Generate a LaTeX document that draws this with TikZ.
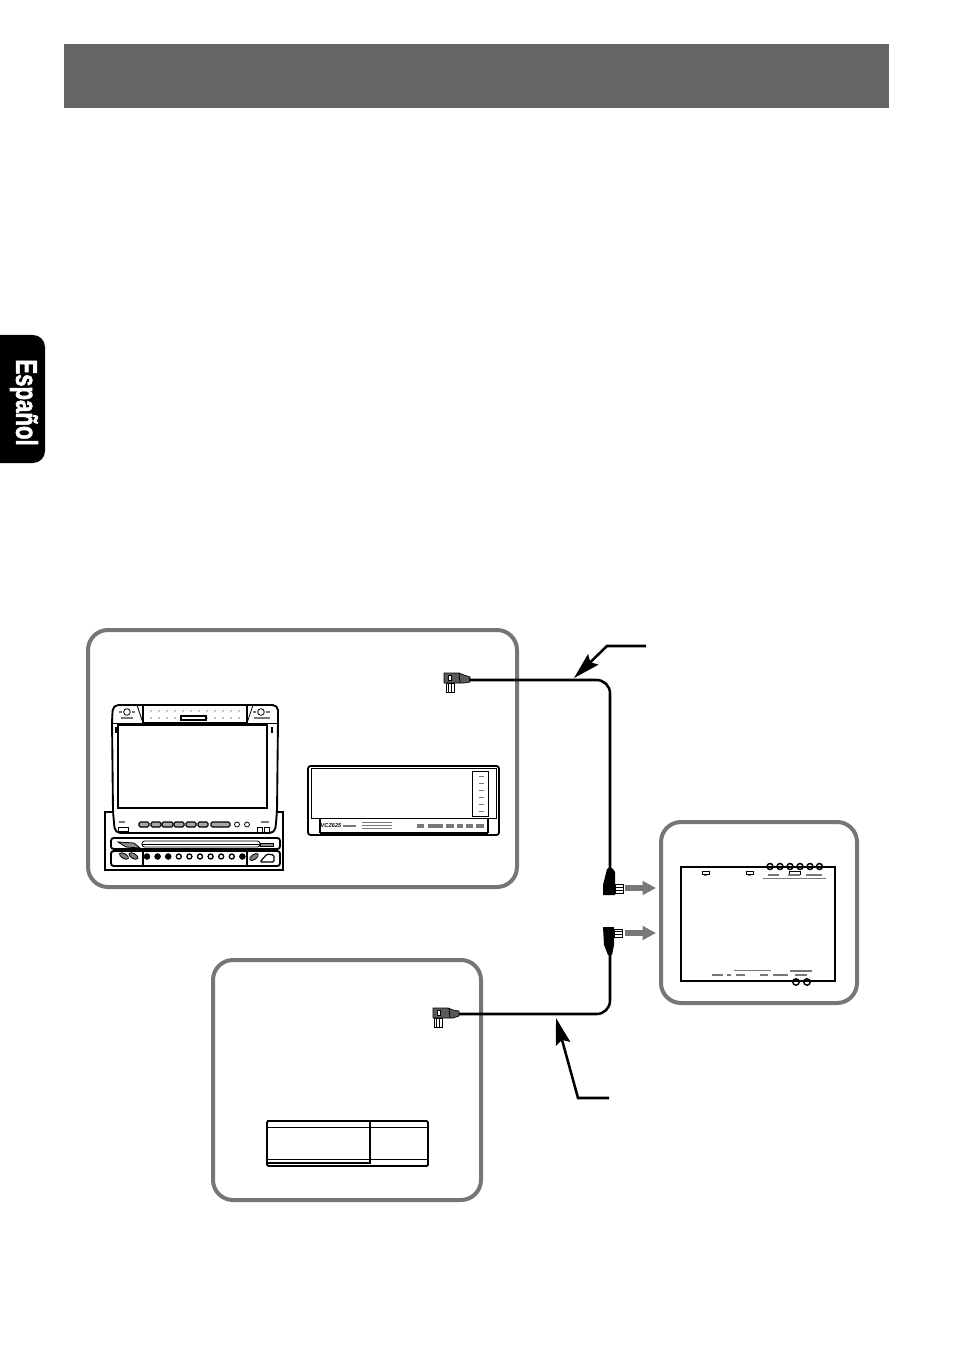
\documentclass[tikz,border=0pt]{standalone}
\usepackage{fontspec}
\setmainfont{Liberation Sans}
\newfontfamily\tabfont[BoldFeatures={FakeBold=2.2}]{Liberation Sans}
\usetikzlibrary{arrows.meta}
\definecolor{bargray}{RGB}{102, 102, 102}
\definecolor{framegray}{RGB}{118, 118, 118}
\definecolor{pluggray}{RGB}{90, 90, 90}
\definecolor{markgray}{RGB}{120, 120, 120}

\begin{document}
\begin{tikzpicture}[x=0.75pt, y=-0.75pt,
        framebox/.style={draw=framegray, line width=3pt, rounded corners=15pt, fill=white,
                    anchor=north west, inner sep=0pt, outer sep=0pt},
        plugbody/.style={inner sep=0pt, outer sep=0pt, minimum width=19.5pt, minimum height=7.5pt},
        plugend/.style={inner sep=0pt, outer sep=0pt, minimum width=9pt, minimum height=20pt},
        plugfill/.style={draw=black, line width=0.5pt, fill=pluggray},
        wire/.style={line width=1.9pt, rounded corners=10pt},
        leader/.style={line width=1.9pt, -{Stealth[length=20pt, width=11pt, inset=3pt]}},
        pushto/.style={line width=3.8pt, draw=markgray,
                    -{Triangle[length=10pt, width=10pt]}},
        outline/.style={line width=1.4pt, draw=black, fill=white},
        thinline/.style={line width=0.6pt, draw=black},
        tickline/.style={line width=0.8pt, draw=markgray}
    ]
    \useasboundingbox (0,0) rectangle (954,1351);

    % Top bar and side tab
    \node[fill=bargray, anchor=north west, inner sep=0pt, outer sep=0pt, minimum width=618.75pt, minimum height=48pt] (headbar) at (64,44) {};
    \fill[black, rounded corners=9pt] (-20,335) rectangle (45,463);
    \node[transform shape, rotate=-90, xscale=.74, text=white, font=\tabfont\fontsize{22.5}{24}\selectfont\bfseries] (tablabel) at (24,402.5) {Español};

    % Frames
    \node[framebox, minimum width=321.75pt, minimum height=192.75pt] (sourcebox) at (88,630) {};
    \node[framebox, minimum width=201pt, minimum height=180pt] (changerbox) at (213,960) {};
    \node[framebox, minimum width=147pt, minimum height=135.75pt] (ampbox) at (661,822) {};

    % Head unit
    \draw[outline, line width=1.6pt] (105,812) rectangle (283,870);
    \draw[outline, rounded corners=4pt] (113,812) -- (112,720) -- (113,705) -- (278,705) -- (278,720) -- (277,812) -- (275,833) -- (115,833) -- cycle;
    \draw[line width=1pt] (118,725) rectangle (267,808);
    \draw[thinline] (113,723) -- (143,723) (247,723) -- (277,723);
    \draw[outline] (143,705) rectangle (247,723);
    \draw[thinline] (137,705) -- (143,723) (253,705) -- (247,723);
    \foreach \px in {151,159,...,239} {
        \fill (\px,711) circle (0.7);
        \fill (\px,718) circle (0.7);
    }
    \draw[outline, line width=.8pt] (181,716) rectangle (206,720);
    \draw[thinline] (127,712) circle (3.3) (261,712) circle (3.3);
    \draw[tickline] (119,712) -- (122,712) (132,712) -- (135,712) (253,712) -- (256,712) (266,712) -- (270,712);
    \draw[tickline] (121,718) -- (133,718) (254,718) -- (270,718);
    \fill (115,727) rectangle (117,733);
    \fill (271,727) rectangle (273,733);
    \foreach \px/\pw in {139/10,151/10,162/11,174/10,186/10,198/10,211/19} {
        \draw[line width=.8pt, rounded corners=1pt, fill=black!35] (\px,822) rectangle ++(\pw,5);
    }
    \draw[thinline] (237,824.5) circle (2.5) (247,824.5) circle (2.5);
    \draw[thinline] (118,827) rectangle (128,831);
    \draw[tickline, line width=1.4pt] (119,822) -- (125,822) (261,822) -- (269,822);
    \draw[thinline] (257,827) rectangle (262,832) (264,827) rectangle (269,832);
    \draw[outline, rounded corners=2pt] (111,838) rectangle (280,849);
    \draw[outline, rounded corners=2pt] (111,851) rectangle (280,866);
    \draw[thinline, rounded corners=2pt] (142,841) rectangle (260,847);
    \draw[thinline] (142,844) -- (260,844);
    \draw[thinline, fill=black!45] (118,842) -- (134,843) -- (140,848) -- (126,847) -- cycle;
    \draw[thinline, fill=black!45] (260,843) rectangle (273,846);
    \draw[line width=.8pt] (143,851) -- (143,866) (247,851) -- (247,866);
    \foreach \nx in {0,1,...,9} {
        \draw[line width=1pt] ({147+10.6*\nx},856.5) circle (2.5);
    }
    \foreach \nx in {0,1,2,9} {
        \fill ({147+10.6*\nx},856.5) circle (3);
    }
    \draw[thinline, fill=black!50, rotate around={-30:(124,856)}] (124,856) ellipse (5 and 2.5);
    \draw[thinline, fill=black!50, rotate around={-30:(133.5,856)}] (133.5,856) ellipse (5 and 2.5);
    \draw[thinline, fill=black!50, rotate around={35:(254,857)}] (254,857) ellipse (5 and 2.5);
    \draw[line width=.9pt, rounded corners=1pt] (260,862) -- (267,854) -- (274,855) -- (274,862) -- cycle;

    % Tuner unit
    \draw[outline, rounded corners=2pt] (308,766) rectangle (499,835);
    \draw[thinline] (311,768) rectangle (496,818);
    \draw[line width=.9pt] (320,818) -- (320,833) (488,818) -- (488,833) (320,833) -- (488,833);
    \draw[line width=.6pt, fill=white] (472,771) rectangle (488,816);
    \foreach \py in {776,783,...,811} {
        \draw[tickline, line width=.5pt] (479,\py) -- (484,\py);
    }
    \node[font=\fontsize{4.2}{5}\selectfont\bfseries\itshape, inner sep=0pt] (tunerlabel) at (331,826) {VCZ625};
    \foreach \py in {822,825,828} {
        \draw[tickline, line width=.5pt] (362,\py) -- (392,\py);
    }
    \draw[tickline, line width=1.4pt] (343,826) -- (356,826);
    \foreach \px/\pw in {417/7,428/15,446/8,457/6,466/7,476/8} {
        \draw[tickline, line width=3pt] (\px,826) -- ++(\pw,0);
    }

    % Disc changer
    \draw[outline, rounded corners=1pt] (267,1121) rectangle (428,1166);
    \draw[thinline] (268,1127) -- (428,1127) (268,1159) -- (428,1159);
    \draw[line width=.9pt] (370,1121) -- (370,1164);
    \draw[line width=1.9pt] (267,1121) -- (303,1121);
    \draw[line width=1.1pt] (268,1163) -- (370,1163);

    % Amplifier
    \foreach \px in {770,780,790,800,810,819.5} {
        \draw[line width=1.1pt, fill=white] (\px,866.5) circle (3);
    }
    \foreach \px in {796,807} {
        \draw[line width=1.1pt, fill=white] (\px,982) circle (3.2);
    }
    \draw[line width=1.9pt] (681,867) rectangle (835,981);
    \draw[line width=.6pt] (702,871) rectangle (709,874) (746,871) rectangle (753,874) (789,871) rectangle (800,874);
    \draw[tickline] (704,875.5) -- (707,875.5) (748,875.5) -- (751,875.5);
    \draw[tickline, line width=1.2pt] (768,875) -- (779,875) (788,875) -- (800,875) (806,875) -- (822,875);
    \draw[tickline, line width=1.1pt] (763,878.5) -- (826,878.5);
    \draw[tickline, line width=1.2pt] (712,975) -- (723,975) (727,975) -- (731,975) (736,975) -- (745,975) (760,975) -- (768,975) (773,975) -- (788,975) (795,975) -- (807,975);
    \draw[tickline, line width=1.1pt] (734,970.7) -- (771,970.7) (790,971) -- (812,971);

    % Plugs on the cables
    \node[plugbody] (sourceplug) at (456.75,678) {};
    \draw[plugfill] (444,673) -- (459,673) -- (464,675) -- (470,677) -- (470,682) -- (464,683) -- (444,683) -- cycle;
    \draw[thinline] (459,673) -- (460,683);
    \draw[thinline, fill=white] (446,683.5) rectangle (454,692);
    \draw[thinline] (448.5,684) -- (448.5,692) (451.5,684) -- (451.5,692);
    \draw[thinline, fill=white] (448,675) rectangle (451,680);
    \node[plugbody] (changerplug) at (446,1013) {};
    \draw[plugfill] (433,1008) -- (448,1008) -- (453,1010) -- (459,1011) -- (459,1016) -- (453,1018) -- (433,1018) -- cycle;
    \draw[thinline] (449,1008) -- (450,1018);
    \draw[thinline, fill=white] (434,1018.5) rectangle (442,1027);
    \draw[thinline] (436.5,1019) -- (436.5,1027) (439.5,1019) -- (439.5,1027);
    \draw[thinline, fill=white] (437,1010) rectangle (440,1015);
    \node[plugend] (ampplugA) at (609,881.5) {};
    \fill (610,867) -- (607,869) -- (603,885) -- (603,895) -- (615,895) -- (615,872) -- (613,869) -- cycle;
    \draw[thinline, fill=white] (615,884) rectangle (623,893);
    \draw[thinline] (615,887) -- (623,887) (615,890) -- (623,890);
    \node[plugend] (ampplugB) at (608.5,940) {};
    \fill (603,927) -- (614,927) -- (614,945) -- (612,955) -- (608,955) -- (604,945) -- cycle;
    \draw[thinline, fill=white] (614,929) rectangle (622,937);
    \draw[thinline] (614,931.7) -- (622,931.7) (614,934.4) -- (622,934.4);

    % Cables
    \coordinate (sourcewire) at (469,680);
    \coordinate (sourceturn) at (610,680);
    \coordinate (changerwire) at (459,1014);
    \coordinate (changerturn) at (610,1014);
    \draw[wire] (sourcewire) -- (sourceturn) -- (ampplugA.north -| sourceturn);
    \draw[wire] (changerwire) -- (changerturn) -- (ampplugB.south -| changerturn);

    % Cable callouts
    \coordinate (calloutA) at (646,646);
    \coordinate (elbowA) at (607,646);
    \coordinate (tipA) at (574,678);
    \coordinate (calloutB) at (609,1098);
    \coordinate (elbowB) at (578,1098);
    \coordinate (tipB) at (556,1018);
    \draw[leader] (calloutA) -- (elbowA) -- (tipA);
    \draw[leader] (calloutB) -- (elbowB) -- (tipB);

    % Arrows to the amplifier
    \coordinate (fromA) at (625,888);
    \coordinate (intoA) at (656,888);
    \coordinate (fromB) at (625,933);
    \coordinate (intoB) at (656,933);
    \draw[pushto] (fromA) -- (intoA);
    \draw[pushto] (fromB) -- (intoB);

    \end{tikzpicture}
\end{document}
